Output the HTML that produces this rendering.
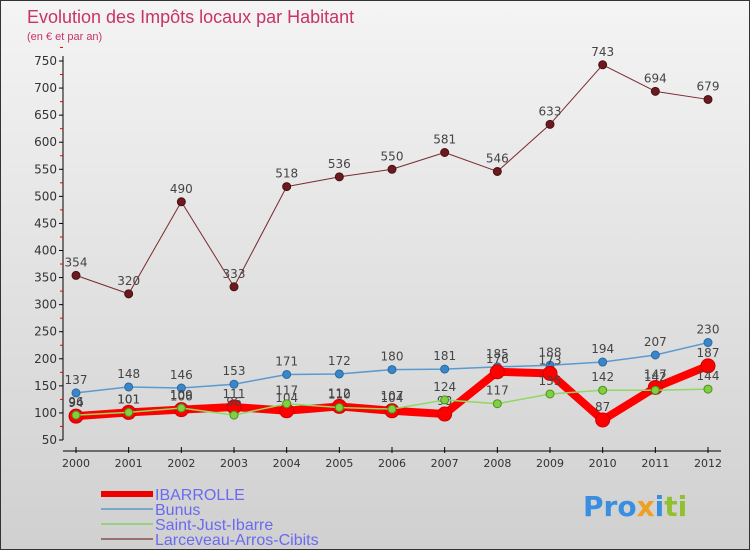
<!DOCTYPE html>
<html><head><meta charset="utf-8"><style>
body{margin:0;}
#c{position:relative;width:748px;height:548px;border:1px solid #333;background:linear-gradient(#f4f4f4,#d0d0d0);font-family:"DejaVu Sans","Liberation Sans",sans-serif;overflow:hidden}
text{font-family:"DejaVu Sans","Liberation Sans",sans-serif}
</style></head><body>
<div id="c">
<svg id="s" width="748" height="548">
<text x="26" y="22" font-size="18" fill="#c8336a" style="font-family:'Liberation Sans',sans-serif">Evolution des Impôts locaux par Habitant</text>
<text x="26" y="39" font-size="11" fill="#c8336a" style="font-family:'Liberation Sans',sans-serif">(en € et par an)</text>
<g id="axes"></g><g id="series"></g><g id="legend"></g>
<text x="582" y="515" font-size="28" font-weight="bold" fill="#3a8ee0">Pro<tspan fill="#f0a020">x</tspan><tspan fill="#3a8ee0">i</tspan><tspan fill="#90c030">ti</tspan></text>
</svg></div>
<script>
const years=[2000,2001,2002,2003,2004,2005,2006,2007,2008,2009,2010,2011,2012];
const yTicks=[50,100,150,200,250,300,350,400,450,500,550,600,650,700,750];
const ibarrolle=[94,101,106,111,104,112,104,98,176,173,87,147,187];
const bunus=[137,148,146,153,171,172,180,181,185,188,194,207,230];
const saintJust=[96,101,109,96,117,110,107,124,117,135,142,142,144];
const larceveau=[354,320,490,333,518,536,550,581,546,633,743,694,679];
const NS='http://www.w3.org/2000/svg';
function X(i){return 75+i*(707-75)/(years.length-1);}
function Y(v){return 439-(v-50)*(439-60)/700;}
function mk(t,a,p){const e=document.createElementNS(NS,t);for(const k in a)e.setAttribute(k,a[k]);p.appendChild(e);return e;}
const ax=document.getElementById('axes');
let yl=mk('line',{x1:62,y1:55,x2:62,y2:439,stroke:'#000'},ax);


let xl=mk('line',{x1:62,y1:450,x2:720,y2:450,stroke:'#000'},ax);


yTicks.forEach(v=>{
 mk('line',{x1:58,y1:Y(v),x2:62,y2:Y(v),stroke:'#000'},ax);
 mk('line',{x1:59,y1:Y(v+25),x2:62,y2:Y(v+25),stroke:'#e00'},ax);
 const t=mk('text',{x:56,y:Y(v)+4,'font-size':12,'text-anchor':'end',fill:'#333'},ax);t.textContent=v;
 
 
});
years.forEach((y,i)=>{
 mk('line',{x1:X(i),y1:446,x2:X(i),y2:452,stroke:'#000'},ax);
 const t=mk('text',{x:X(i),y:466,'font-size':11,'text-anchor':'middle',fill:'#333'},ax);t.textContent=y;
 
 
});
const sg=document.getElementById('series');
function series(name,data,color,w,r,dot,dotStroke){
 const g=mk('g',{},sg);
 
 
 mk('polyline',{points:data.map((v,i)=>X(i)+','+Y(v)).join(' '),fill:'none',stroke:color,'stroke-width':w,'stroke-linejoin':'round'},g);
 data.forEach((v,i)=>{
  const c=mk('circle',{cx:X(i),cy:Y(v),r:r,fill:dot,stroke:dotStroke,'stroke-width':1},g);
  
  
  const t=mk('text',{x:X(i),y:Y(v)-9,'font-size':12,'text-anchor':'middle',fill:'#444'},g);t.textContent=v;
  
  
 });
}
series('series-larceveau',larceveau,'#7a2a30',1,4,'#6a1a20','#4a1010');
series('series-bunus',bunus,'#5a9ad0',1.5,4,'#3a86c8','#2a6aa0');
series('series-ibarrolle',ibarrolle,'#ff0000',8,7,'#ff0000','#d00000');
series('series-saint-just',saintJust,'#90d860',1.5,4,'#80d040','#4a9020');
const lg=document.getElementById('legend');
const leg=[['IBARROLLE','#ee0000',6],['Bunus','#7aa8cc',2],['Saint-Just-Ibarre','#99d080',2],['Larceveau-Arros-Cibits','#997070',2]];
leg.forEach((l,i)=>{
 const y=493+i*15;
 const g=mk('g',{},lg);
 
 
 mk('line',{x1:100,y1:y,x2:152,y2:y,stroke:l[1],'stroke-width':l[2]},g);
 const t=mk('text',{x:154,y:y+6,'font-size':16,fill:'#6a6af0',style:"font-family:'Liberation Sans',sans-serif"},g);t.textContent=l[0];
});
</script></body></html>
